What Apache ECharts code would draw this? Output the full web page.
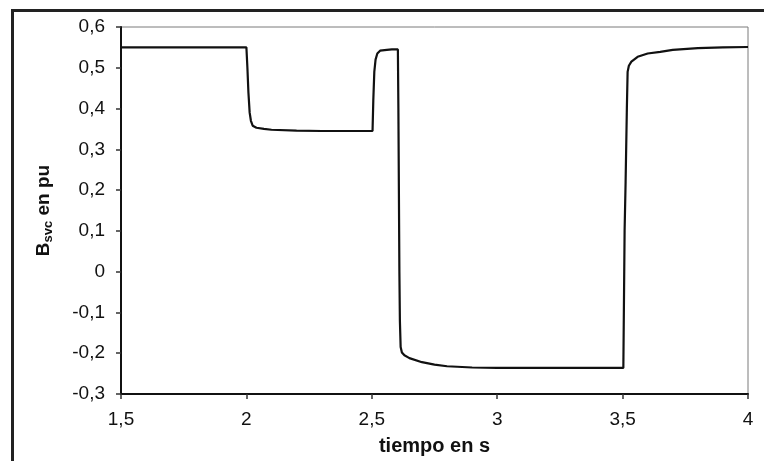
<!DOCTYPE html>
<html>
<head>
<meta charset="utf-8">
<script src="https://cdn.jsdelivr.net/npm/echarts@6/dist/echarts.min.js"></script>
<style>
html,body{margin:0;padding:0;background:#fff;}
#c{width:764px;height:461px;}
</style>
</head>
<body>
<div id="c"></div>
<script>
// Time (s)
var tiempo = [1.5, 2.0, 2.004, 2.008, 2.013, 2.018, 2.025, 2.04, 2.07, 2.1, 2.2, 2.3, 2.4, 2.503,
  2.506, 2.51, 2.515, 2.522, 2.533, 2.56, 2.58, 2.604,
  2.606, 2.608, 2.61, 2.612, 2.615, 2.62, 2.63, 2.65, 2.7, 2.75, 2.8, 2.9, 3.0, 3.2, 3.4, 3.503,
  3.505, 3.508, 3.512, 3.517, 3.52, 3.525, 3.535, 3.56, 3.6, 3.65, 3.7, 3.8, 3.9, 4.0];
// Bsvc (pu)
var bsvc = [0.55, 0.55, 0.50, 0.44, 0.39, 0.37, 0.358, 0.353, 0.350, 0.348, 0.346, 0.345, 0.345, 0.345,
  0.42, 0.49, 0.52, 0.535, 0.542, 0.544, 0.545, 0.545,
  0.40, 0.20, 0.0, -0.12, -0.185, -0.198, -0.205, -0.212, -0.222, -0.228, -0.232, -0.235, -0.236, -0.236, -0.236, -0.236,
  -0.10, 0.10, 0.22, 0.40, 0.49, 0.505, 0.515, 0.527, 0.535, 0.539, 0.544, 0.548, 0.550, 0.551];
var xAxisRange = [1.5, 4, 0.5];
var yAxisRange = [-0.3, 0.6, 0.1];
var xName = 'tiempo en s';
var yName = ['B', 'svc', ' en pu'];

var pts = tiempo.map(function (t, i) { return [t, bsvc[i]]; });
function fmt(v) {
  var r = Math.round(v * 10) / 10;
  return String(r).replace('.', ',');
}

var chart = echarts.init(document.getElementById('c'), null, {renderer: 'canvas'});
chart.setOption({
  animation: false,
  backgroundColor: '#ffffff',
  grid: {left: 121, right: 16, top: 27, bottom: 65, show: true, borderColor: '#7a7a7a', borderWidth: 1, backgroundColor: 'transparent'},
  graphic: [{
    type: 'rect', left: 10, top: 8, silent: true,
    shape: {x: 0, y: 0, width: 900, height: 600},
    style: {fill: 'none', stroke: '#222', lineWidth: 3}
  }],
  xAxis: {
    type: 'value', min: xAxisRange[0], max: xAxisRange[1], interval: xAxisRange[2],
    name: xName, nameLocation: 'middle', nameGap: 42,
    nameTextStyle: {fontFamily: 'Liberation Sans', fontWeight: 'bold', fontSize: 20, color: '#111'},
    axisLine: {show: true, onZero: false, lineStyle: {color: '#111', width: 2}},
    axisTick: {show: true, inside: false, length: 5, lineStyle: {color: '#333', width: 1.5}},
    axisLabel: {formatter: fmt, margin: 16, fontFamily: 'Liberation Sans', fontSize: 19, color: '#111'},
    splitLine: {show: false}
  },
  yAxis: {
    type: 'value', min: yAxisRange[0], max: yAxisRange[1], interval: yAxisRange[2],
    name: '{b|' + yName[0] + '}{s|' + yName[1] + '}{b|' + yName[2] + '}',
    nameLocation: 'middle', nameGap: 66, nameRotate: 90,
    nameTextStyle: {
      rich: {
        b: {fontFamily: 'Liberation Sans', fontWeight: 'bold', fontSize: 19, color: '#111', lineHeight: 22},
        s: {fontFamily: 'Liberation Sans', fontWeight: 'bold', fontSize: 13, color: '#111', lineHeight: 22, padding: [9, 0, 0, 0]}
      }
    },
    axisLine: {show: true, onZero: false, lineStyle: {color: '#111', width: 2}},
    axisTick: {show: true, inside: false, length: 5, lineStyle: {color: '#333', width: 1.5}},
    axisLabel: {formatter: fmt, margin: 16, fontFamily: 'Liberation Sans', fontSize: 19, color: '#111'},
    splitLine: {show: false}
  },
  series: [{
    type: 'line', data: pts, showSymbol: false, symbol: 'none',
    lineStyle: {color: '#111', width: 2.2}, smooth: false
  }]
});
</script>
</body>
</html>
